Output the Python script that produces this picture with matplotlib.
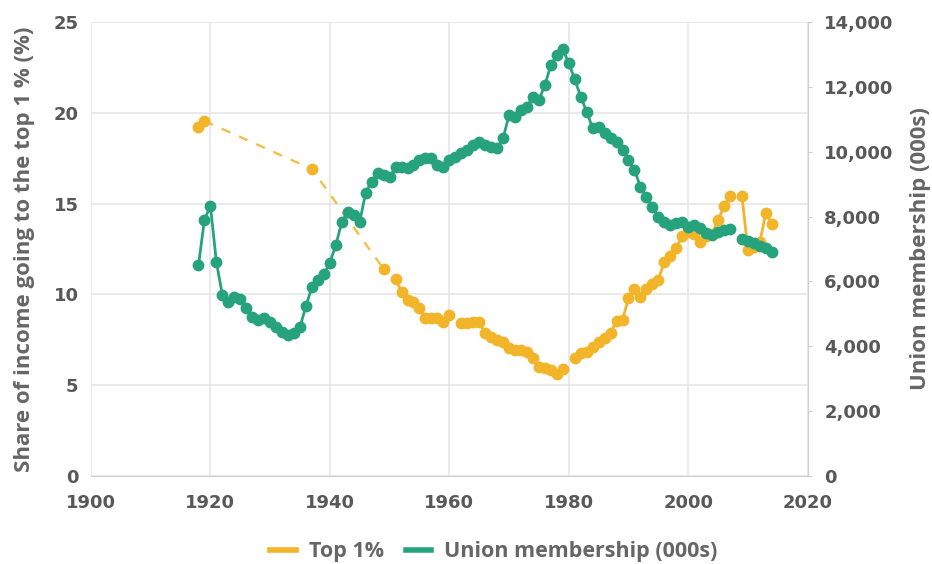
import numpy as np
import matplotlib
matplotlib.use("Agg")
import matplotlib.pyplot as plt
from matplotlib.ticker import FuncFormatter

nan = np.nan

# Share of income going to the top 1% (%), one value per year 1918-2014
top1_years = list(range(1918, 2015))
top1_share = [
    19.2, 19.55,                                            # 1918-1919
    nan, nan, nan, nan, nan, nan, nan, nan, nan, nan,       # 1920-1929
    nan, nan, nan, nan, nan, nan, nan,                      # 1930-1936
    16.9,                                                   # 1937
    nan, nan, nan, nan, nan, nan, nan, nan, nan, nan, nan,  # 1938-1948
    11.4, nan,                                              # 1949-1950
    10.85, 10.15, 9.7, 9.6, 9.25, 8.7, 8.7, 8.7, 8.5, 8.85,  # 1951-1960
    nan,                                                    # 1961
    8.4, 8.45, 8.5, 8.5, 7.85, 7.65, 7.5, 7.4, 7.05,         # 1962-1970
    6.95, 6.95, 6.85, 6.5, 6.0, 5.95, 5.85, 5.6, 5.9,        # 1971-1979
    nan,                                                    # 1980
    6.5, 6.75, 6.85, 7.1, 7.4, 7.6, 7.85, 8.55, 8.6, 9.8,    # 1981-1990
    10.3, 9.85, 10.3, 10.6, 10.8, 11.8, 12.1, 12.55, 13.2, 13.45,  # 1991-2000
    13.35, 12.9, 13.2, 13.35, 14.1, 14.85, 15.4,             # 2001-2007
    nan,                                                    # 2008
    15.4, 12.45, 12.6, 12.9, 14.5, 13.9,                     # 2009-2014
]
# years joined by the dashed line where the series has no data in between
bridge_years = [1919, 1937, 1949]

# Union membership (000s), one value per year 1918-2014
union_years = list(range(1918, 2015))
union_members = [
    6500, 7900,                                                  # 1918-1919
    8330, 6600, 5580, 5380, 5530, 5460, 5180, 4910, 4810, 4870,  # 1920-1929
    4760, 4600, 4450, 4350, 4420, 4600, 5240, 5830, 6040, 6230,  # 1930-1939
    6580, 7120, 7840, 8150, 8050, 7840, 8740, 9080, 9330, 9280,  # 1940-1949
    9210, 9520, 9540, 9490, 9590, 9740, 9800, 9800, 9590, 9540,  # 1950-1959
    9740, 9850, 9970, 10050, 10210, 10310, 10210, 10160, 10100, 10410,  # 1960-1969
    11130, 11080, 11290, 11390, 11700, 11590, 12060, 12670, 12980, 13160,  # 1970-1979
    12730, 12230, 11700, 11230, 10720, 10770, 10570, 10410, 10310, 10050,  # 1980-1989
    9740, 9440, 8920, 8610, 8300, 8000, 7840, 7740, 7810, 7840,  # 1990-1999
    7690, 7740, 7640, 7480, 7430, 7530, 7590, 7610, nan, 7300,   # 2000-2009
    7250, 7170, 7090, 7020, 6920,                                # 2010-2014
]

yellow = "#F2B429"
green = "#26A37C"
text_grey = "#585858"
grid_grey = "#e6e6e6"
spine_grey = "#cfcfcf"

top1 = np.array(top1_share, dtype=float)
union = np.array(union_members, dtype=float)
bridge_vals = [top1[top1_years.index(y)] for y in bridge_years]

fig = plt.figure(figsize=(9.32, 5.64), dpi=100)
ax = fig.add_axes([0.0976, 0.156, 0.769, 0.805])
ax2 = ax.twinx()

label_font = dict(family=["Open Sans", "DejaVu Sans"], size=16, weight="bold", color="#666666")

ax.plot(bridge_years, bridge_vals, color=yellow, lw=1.7, ls=(0, (4, 4)), alpha=0.85, zorder=2)
ax.plot(top1_years, top1, color=yellow, lw=2, marker="o", ms=7.5, zorder=3)
ax2.plot(union_years, union, color=green, lw=2, marker="o", ms=7.5, zorder=3)

ax.set_xlim(1900, 2020)
ax.set_ylim(0, 25)
ax2.set_ylim(0, 14000)
ax.set_xticks(range(1900, 2021, 20))
ax.set_yticks(range(0, 26, 5))
ax2.set_yticks(range(0, 14001, 2000))
ax2.yaxis.set_major_formatter(FuncFormatter(lambda v, p: f"{int(v):,}"))

ax.grid(True, color=grid_grey, lw=1.2)
ax.set_axisbelow(True)
for a in (ax, ax2):
    for side in ("top", "left"):
        a.spines[side].set_visible(False)
    a.spines["bottom"].set_color(spine_grey)
    a.spines["right"].set_visible(False)
ax2.spines["right"].set_visible(True)
ax2.spines["right"].set_color(spine_grey)
ax2.spines["bottom"].set_visible(False)
ax.tick_params(length=0)
ax2.tick_params(axis="y", length=3, color=spine_grey)

for lab in ax.get_xticklabels() + ax.get_yticklabels() + ax2.get_yticklabels():
    lab.set_fontfamily(["DejaVu Sans"])
    lab.set_fontweight("bold")
    lab.set_fontsize(13)
    lab.set_color(text_grey)
ax.tick_params(axis="x", pad=13)
ax.tick_params(axis="y", pad=9)
ax2.tick_params(axis="y", pad=9)

ax.set_ylabel("Share of income going to the top 1 % (%)", labelpad=13, **label_font)
ax2.set_ylabel("Union membership (000s)", labelpad=12, **label_font)

handles = [plt.Line2D([], [], color=yellow, lw=4), plt.Line2D([], [], color=green, lw=4)]
fig.legend(handles, ["Top 1%", "Union membership (000s)"], loc="center",
           bbox_to_anchor=(0.53, 0.022), ncol=2, frameon=False, handlelength=1.2,
           columnspacing=1.0, handletextpad=0.6,
           prop=dict(family=["Open Sans", "DejaVu Sans"], size=15.5, weight="bold"),
           labelcolor="#666666")

fig.savefig("out.png", dpi=100, facecolor="white")
